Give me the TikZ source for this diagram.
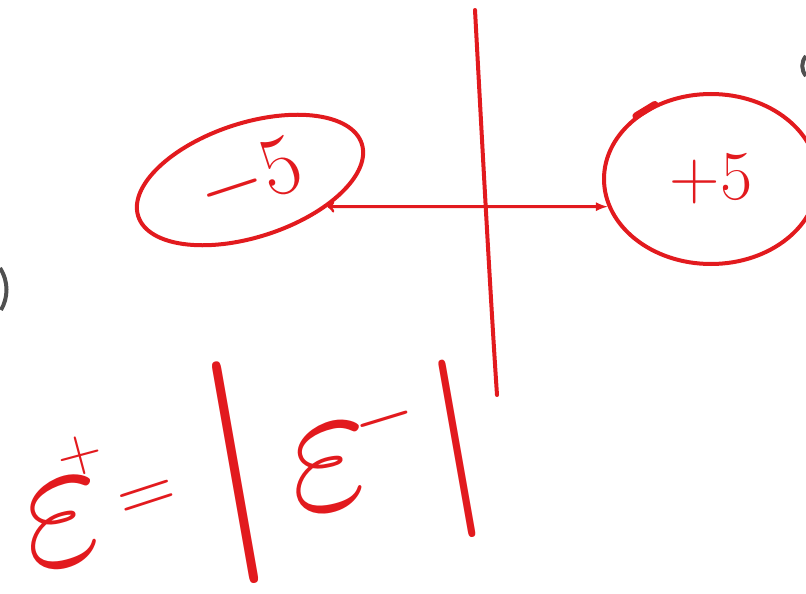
\RequirePackage{fix-cm}
\documentclass[tikz,border=0pt]{standalone}
\usepackage{xcolor}
\usepackage{tikz}
\usetikzlibrary{shapes.geometric}
\definecolor{inkred}{RGB}{226,26,30}
\definecolor{inkgray}{RGB}{80,80,80}
\tikzset{
	ink/.style={draw=inkred, line width=4pt, line cap=round},
	bubble/.style={ellipse, ink, text=inkred, inner sep=0pt},
	glyph/.style={text=inkred, inner sep=0pt, anchor=center},
}
\newcommand{\fsz}[1]{\fontsize{#1}{#1}\selectfont}

\begin{document}
\begin{tikzpicture}[x=1pt, y=-1pt]
	% Frame and stray marks at the edges:
	\useasboundingbox (0,0) rectangle (806,594);
	\draw[inkgray, line width=4pt] (0,268) .. controls (9,282) and (8,298) .. (1,310);
	\draw[inkgray, line width=4pt] (806,56) .. controls (801,62) and (801,70) .. (806,76);
	% Axis stroke:
	\draw[ink] (475,10) .. controls (482,140) and (490,290) .. (497,395);
	% Charges and the arrow between them:
	\node[bubble, rotate=18, minimum width=235pt, minimum height=114pt, font=\fsz{85}] (neg) at (250,180) {$-5$};
	\node[bubble, minimum width=214pt, minimum height=170pt, font=\fsz{70}] (pos) at (711,179) {$+5$};
	\draw[ink, line width=7pt] (pos.127) -- (pos.140);
	\draw[ink, line width=3pt, to-latex] (neg.-37) -- (pos.195);
	% Formula:
	\node[glyph, rotate=15, font=\fsz{190}] (epsA) at (64,523) {$\varepsilon$};
	\node[glyph, rotate=15, font=\fsz{62}] (supA) at (80,456) {$+$};
	\node[glyph, rotate=18, font=\fsz{80}] (eq) at (148,501) {$=$};
	\node[glyph, rotate=10, font=\fsz{225}] (barL) at (236,473) {$|$};
	\node[glyph, rotate=12, font=\fsz{190}] (epsB) at (331,467) {$\varepsilon$};
	\node[glyph, rotate=17, font=\fsz{80}] (supB) at (384,419) {$-$};
	\node[glyph, rotate=10, font=\fsz{180}] (barR) at (457,449) {$|$};
\end{tikzpicture}
\end{document}
